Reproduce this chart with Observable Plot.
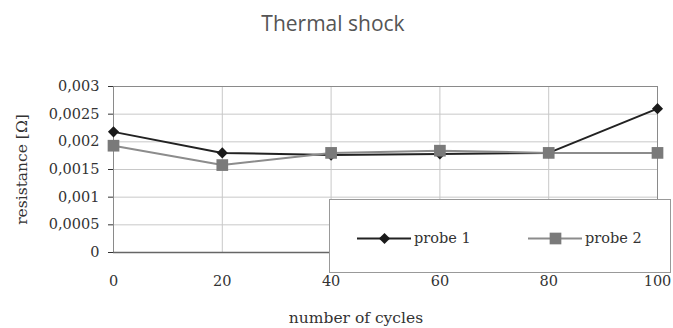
<!DOCTYPE html>
<html><head><meta charset="utf-8">
<script src="https://cdn.jsdelivr.net/npm/d3@7"></script>
<script src="https://cdn.jsdelivr.net/npm/@observablehq/plot@0.6"></script>
<style>
body{margin:0;background:#fff;}
#wrap{position:relative;width:673px;height:328px;}
#title{height:50px;line-height:47px;text-align:center;font-family:"Open Sans",sans-serif;font-size:21px;color:#555;padding-right:7px;box-sizing:border-box;}
#legend{position:absolute;left:329px;top:199px;width:340px;height:72px;border:1px solid #999;background:#fff;}
.item{position:absolute;top:28px;display:flex;align-items:center;}
.item span{margin-left:3px;font-family:"DejaVu Serif",serif;font-size:14.5px;color:#333;}
#xlabel{position:absolute;left:256px;width:200px;top:309px;text-align:center;font-family:"DejaVu Serif",serif;font-size:15.5px;color:#333;}
</style></head>
<body>
<div id="wrap">
<div id="title">Thermal shock</div>
<div id="chart"></div>
<div id="legend"></div>
<div id="xlabel">number of cycles</div>
</div>
<script>
const cycles=[0,20,40,60,80,100];
const probe1=[0.00218,0.0018,0.00176,0.00178,0.0018,0.0026];
const probe2=[0.00193,0.00158,0.0018,0.00184,0.0018,0.0018];
const seriesNames=["probe 1","probe 2"];
const yTicks=[0,0.0005,0.001,0.0015,0.002,0.0025,0.003];
const xTicks=[0,20,40,60,80,100];
const colors=["#1a1a1a","#7a7a7a"];
const lineColors=["#222","#8c8c8c"];
const symbols=["diamond2","square"];
const radii=[5,6.6];

const data=cycles.flatMap((c,i)=>[
  {cycles:c,value:probe1[i],series:seriesNames[0]},
  {cycles:c,value:probe2[i],series:seriesNames[1]}
]);
const fmt=d=>String(d).replace(".",",");
const font="DejaVu Serif";

const marks=[
  Plot.gridY(yTicks,{stroke:"#c8c8c8",strokeOpacity:1}),
  Plot.gridX(xTicks,{stroke:"#c8c8c8",strokeOpacity:1}),
  Plot.frame({stroke:"#8a8a8a"}),
  Plot.ruleY([0],{stroke:"#666",strokeWidth:1.5}),
  Plot.axisY(yTicks,{tickSize:5,tickPadding:9,tickFormat:fmt,fontSize:14.5,fontFamily:font,fill:"#333",label:null}),
  Plot.axisY({label:"resistance [Ω]",ticks:[],labelArrow:"none",labelAnchor:"center",labelOffset:98,fontSize:15.5,fontFamily:font,fill:"#333",tickSize:0}),
  Plot.axisX(xTicks,{tickSize:0,tickPadding:23,fontSize:14.5,fontFamily:font,fill:"#333",label:null})
];
seriesNames.forEach((s,k)=>{
  const d=data.filter(r=>r.series===s);
  marks.push(Plot.line(d,{x:"cycles",y:"value",stroke:lineColors[k],strokeWidth:2}));
  marks.push(Plot.dot(d,{x:"cycles",y:"value",symbol:()=>symbols[k],r:radii[k],fill:colors[k],stroke:"none"}));
});

const chart=Plot.plot({
  width:673,height:278,
  marginLeft:113,marginRight:16,marginTop:36,marginBottom:76,
  x:{domain:[0,100]},
  y:{domain:[0,0.003]},
  style:{fontFamily:font,fontSize:"14.5px",color:"#333",background:"#fff"},
  marks
});
document.getElementById("chart").append(chart);

const legend=document.getElementById("legend");
const pos=[27,198];
seriesNames.forEach((s,k)=>{
  const it=document.createElement("div");
  it.className="item";
  it.style.left=pos[k]+"px";
  const sw=Plot.plot({width:54,height:20,margin:0,axis:null,x:{domain:[0,1]},y:{domain:[0,1]},
    marks:[Plot.ruleY([0.5],{stroke:lineColors[k],strokeWidth:2}),
           Plot.dot([{x:0.5,y:0.5}],{x:"x",y:"y",symbol:()=>symbols[k],r:radii[k],fill:colors[k],stroke:"none"})]});
  it.append(sw);
  const t=document.createElement("span");t.textContent=s;it.append(t);
  legend.append(it);
});
</script>
</body></html>
